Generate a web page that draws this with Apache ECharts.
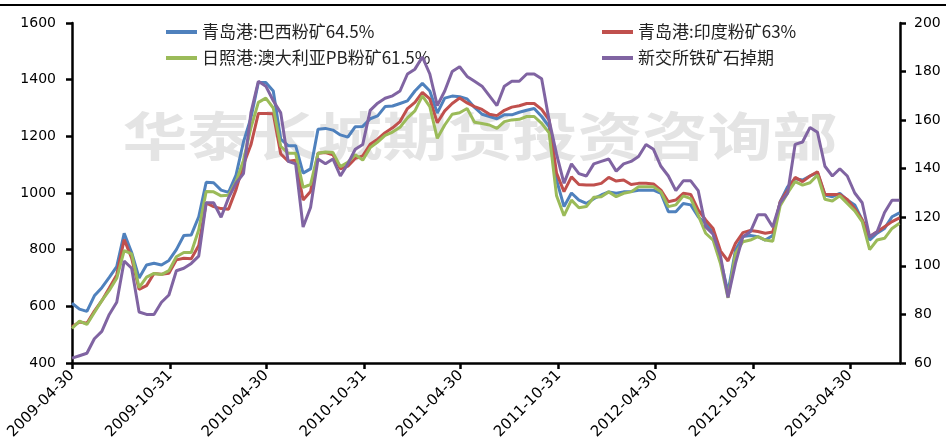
<!DOCTYPE html>
<html>
<head>
<meta charset="utf-8">
<script src="https://cdn.jsdelivr.net/npm/echarts@6/dist/echarts.min.js"></script>
<style>
html,body{margin:0;padding:0;background:#fff;}
#wrap{position:relative;width:946px;height:443px;}
#chart{width:946px;height:443px;}
#topline{position:absolute;left:0;top:4px;width:946px;height:2px;background:#000;z-index:5;pointer-events:none;}
</style>
</head>
<body>
<div id="wrap"><div id="chart"></div><div id="topline"></div></div>
<script>
// ---- data ----
const seriesNames = ['青岛港:巴西粉矿64.5%', '青岛港:印度粉矿63%', '日照港:澳大利亚PB粉矿61.5%', '新交所铁矿石掉期'];
const tickLabels = ['2009-04-30','2009-10-31','2010-04-30','2010-10-31','2011-04-30','2011-10-31','2012-04-30','2012-10-31','2013-04-30'];
const startDate = '2009-04-30';
const endDate = '2013-08-02';
const stepDays = 14;

const qdBrazil = [611,590,582,637,666,702,740,858,790,700,746,752,746,762,800,850,852,916,1038,1036,
1010,1002,1063,1180,1265,1390,1390,1360,1190,1167,1167,1070,1085,1225,1228,1222,1205,1197,1234,1235,
1262,1272,1305,1307,1316,1325,1360,1387,1360,1282,1335,1342,1340,1332,1302,1278,1270,1262,1276,1276,
1285,1292,1298,1270,1234,1046,952,1000,975,963,980,993,1004,999,1004,1005,1010,1010,1010,999,
934,934,963,958,916,893,858,762,650,799,846,850,846,834,850,969,1022,1050,1046,1060,
1072,993,987,999,975,958,905,834,858,875,916,930];

const qdIndia = [528,545,540,583,620,665,711,836,770,660,673,716,713,717,764,770,768,815,965,952,
945,943,1012,1100,1170,1281,1281,1280,1138,1112,1116,975,1005,1140,1143,1135,1085,1095,1122,1131,
1172,1190,1213,1230,1252,1298,1320,1355,1332,1248,1290,1316,1335,1318,1305,1295,1278,1273,1292,1303,
1308,1316,1316,1295,1258,1070,1005,1057,1030,1028,1028,1034,1055,1042,1046,1030,1034,1034,1032,1010,
969,975,999,995,940,905,875,795,760,822,860,868,864,858,862,969,1010,1055,1040,1060,
1075,995,995,995,977,945,905,846,863,881,899,912];

const rzPB = [522,548,536,578,620,656,699,797,785,666,703,716,712,726,775,790,790,870,1005,1004,
990,992,1040,1115,1230,1320,1335,1300,1165,1140,1140,1020,1030,1140,1145,1143,1093,1108,1135,1116,
1160,1180,1203,1215,1232,1265,1290,1343,1305,1193,1240,1278,1283,1298,1250,1245,1240,1228,1252,1258,
1260,1270,1270,1246,1212,990,920,975,948,952,985,987,1004,987,999,1004,1022,1022,1022,1004,
952,958,990,980,922,858,834,750,630,787,828,834,846,834,830,955,1000,1040,1028,1036,
1063,978,972,990,963,937,899,800,834,840,875,893];

const sgxSwap = [62,63,64,70,73,80,85,102,99,81,80,80,85,88,98,99,101,104,126,126,
120,128,134,138,163,176,174,168,163,143,142,116,124,144,142,144,137,142,148,150,
164,167,169,170,172,179,181,186,179,166,172,180,182,178,176,174,170,166,174,176,
176,179,179,177,160,146,134,142,138,137,142,143,144,139,142,143,145,150,148,141,
137,131,135,135,131,116,113,104,87,101,112,114,121,121,116,126,130,150,151,157,
155,141,137,140,137,130,126,112,114,122,127,127];

// ---- helpers ----
function parseDate(s){const p=s.split('-').map(Number);return Date.UTC(p[0],p[1]-1,p[2]);}
const DAY = 86400000;
const t0 = parseDate(startDate);
function dayOf(s){ return Math.round((parseDate(s) - t0) / DAY); }
// x position of each observation = days since start date
const days = qdBrazil.map((_, i) => i * stepDays);
const tickValues = tickLabels.map(dayOf);
const tickMap = {};
tickLabels.forEach((l, i) => { tickMap[tickValues[i]] = l; });
function pairs(arr){ return arr.map((v, i) => [days[i], v]); }

const colors = ['#4F81BD', '#C0504D', '#9BBB59', '#8064A2'];
const labelFont = 'DejaVu Sans';

const chart = echarts.init(document.getElementById('chart'), null, {renderer: 'canvas'});

function mkSeries(idx, arr, yIdx){
  return {
    name: seriesNames[idx], type: 'line', yAxisIndex: yIdx,
    data: pairs(arr), showSymbol: false, symbol: 'none',
    lineStyle: {width: 3, color: colors[idx]},
    itemStyle: {color: colors[idx]},
    connectNulls: false, z: 2 + idx
  };
}

const legendText = {fontSize: 17, fontFamily: 'Noto Sans CJK SC', color: '#222', lineHeight: 18};
const plainNum = function(v){ return String(v); };

chart.setOption({
  animation: false,
  backgroundColor: '#fff',
  color: colors,
  grid: {left: 72, right: 46, top: 23, bottom: 80},
  legend: [
    {left: 161, top: 18, orient: 'vertical', itemGap: 8, itemWidth: 31, itemHeight: 4, icon: 'rect',
     data: [seriesNames[0], seriesNames[2]], textStyle: legendText, selectedMode: false},
    {left: 597, top: 18, orient: 'vertical', itemGap: 8, itemWidth: 31, itemHeight: 4, icon: 'rect',
     data: [seriesNames[1], seriesNames[3]], textStyle: legendText, selectedMode: false}
  ],
  graphic: {
    elements: [
      {type: 'text', x: 480, y: 136, scaleX: 1.25, z: 0, silent: true,
       style: {text: '华泰长城期货投资咨询部', fontSize: 52, fontWeight: 'bold',
               fontFamily: 'Noto Sans CJK SC', fill: '#e4e4e4', textAlign: 'center', textVerticalAlign: 'middle'}},
      {type: 'rect', z: 10, silent: true, shape: {x: 0, y: 4, width: 946, height: 2},
       style: {fill: '#000'}}
    ]
  },
  xAxis: {
    type: 'value',
    min: 0, max: dayOf(endDate),
    axisLine: {show: true, onZero: false, lineStyle: {color: '#000', width: 2.5}},
    axisTick: {show: true, length: 6, lineStyle: {color: '#000', width: 2.5}, customValues: tickValues},
    axisLabel: {
      customValues: tickValues, rotate: 45, margin: 10, fontSize: 15, fontFamily: labelFont, color: '#000',
      formatter: function(v){ return tickMap[Math.round(v)] || ''; }
    },
    splitLine: {show: false}
  },
  yAxis: [
    {type: 'value', position: 'left', min: 400, max: 1600, interval: 200,
     axisLine: {show: true, lineStyle: {color: '#000', width: 2.5}},
     axisTick: {show: true, length: 6, lineStyle: {color: '#000', width: 2.5}},
     axisLabel: {margin: 16, fontSize: 14, fontFamily: labelFont, color: '#000', formatter: plainNum},
     splitLine: {show: false}},
    {type: 'value', position: 'right', min: 60, max: 200, interval: 20,
     axisLine: {show: true, lineStyle: {color: '#000', width: 2.5}},
     axisTick: {show: true, length: 6, lineStyle: {color: '#000', width: 2.5}},
     axisLabel: {margin: 14, fontSize: 14, fontFamily: labelFont, color: '#000', formatter: plainNum},
     splitLine: {show: false}}
  ],
  series: [
    mkSeries(0, qdBrazil, 0),
    mkSeries(1, qdIndia, 0),
    mkSeries(2, rzPB, 0),
    mkSeries(3, sgxSwap, 1)
  ]
});
</script>
</body>
</html>
